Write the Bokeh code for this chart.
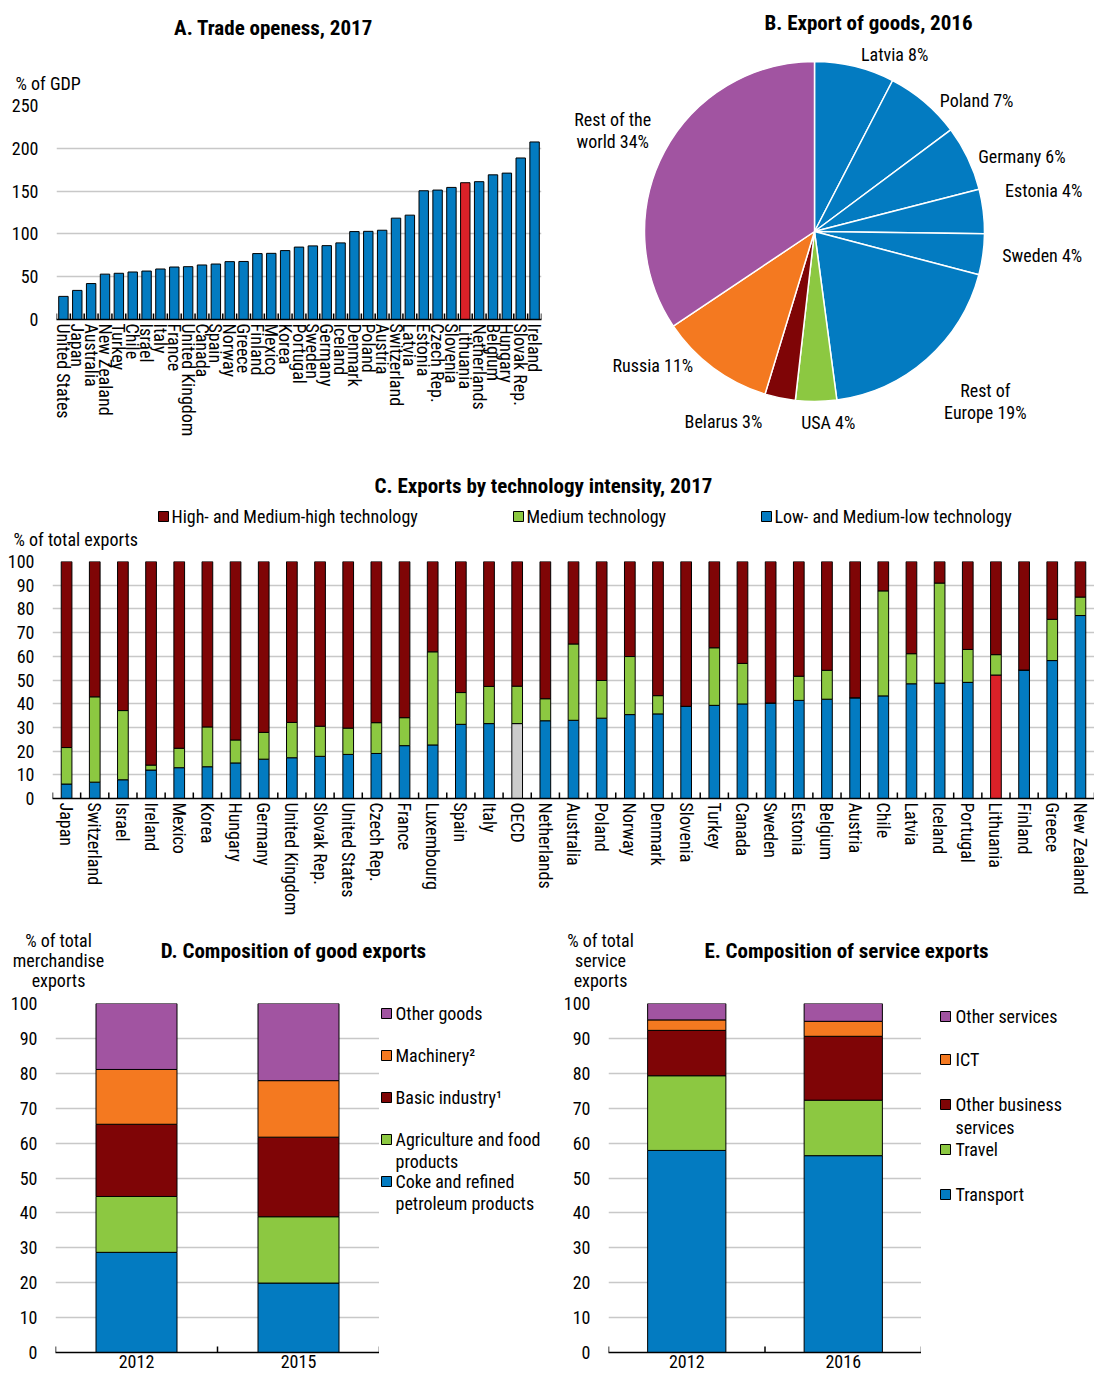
import math
from bokeh.plotting import figure
from bokeh.models import Range1d, FactorRange, SingleIntervalTicker, ColumnDataSource
from bokeh.layouts import column, row
from bokeh.embed import file_html
from bokeh.resources import INLINE
from bokeh.core.properties import value

FONT = "Roboto Condensed"
BLUE = "#037BC1"
GREEN = "#8CC841"
DRED = "#7F0506"
ORANGE = "#F47920"
PURPLE = "#A154A1"
RED = "#DA2128"
GREY = "#CCCCCC"
GRID = "#C8C8C8"

# ---------------- Data ----------------
# A. Trade openness, 2017 (% of GDP)
a_countries = ["United States", "Japan", "Australia", "New Zealand", "Turkey", "Chile",
               "Israel", "Italy", "France", "United Kingdom", "Canada", "Spain", "Norway",
               "Greece", "Finland", "Mexico", "Korea", "Portugal", "Sweden", "Germany",
               "Iceland", "Denmark", "Poland", "Austria", "Switzerland", "Latvia", "Estonia",
               "Czech Rep.", "Slovenia", "Lithuania", "Netherlands", "Belgium", "Hungary",
               "Slovak Rep.", "Ireland"]
a_trade = [27, 34, 42, 53, 54, 55.5, 56.6, 59, 61.3, 61.7, 63.7, 64.8, 67.6, 67.8, 77,
           77.3, 80.5, 84.6, 86, 86.3, 89.5, 102.7, 103, 104.3, 118.4, 121.9, 150.4,
           151.2, 154.3, 159.8, 161, 169, 171, 188.7, 207.4]

# B. Export of goods, 2016 (% share)
b_partners = ["Latvia", "Poland", "Germany", "Estonia", "Sweden", "Rest of\nEurope",
              "USA", "Belarus", "Russia", "Rest of the\nworld"]
b_shares = [7.6, 7.2, 6.2, 4.2, 3.9, 18.8, 3.9, 2.9, 10.9, 34.4]
b_colors = [BLUE, BLUE, BLUE, BLUE, BLUE, BLUE, GREEN, DRED, ORANGE, PURPLE]
# label placement nudges (layout only, pixels: right, down)
b_label_nudge = [(0, 13), (6, 18), (0, 10), (5, -18), (8, -2), (8, 15), (12, -5),
                 (-13, -2), (-11, -23), (6, -4)]

# C. Exports by technology intensity, 2017 (% of total exports)
c_countries = ["Japan", "Switzerland", "Israel", "Ireland", "Mexico", "Korea", "Hungary",
               "Germany", "United Kingdom", "Slovak Rep.", "United States", "Czech Rep.",
               "France", "Luxembourg", "Spain", "Italy", "OECD", "Netherlands", "Australia",
               "Poland", "Norway", "Denmark", "Slovenia", "Turkey", "Canada", "Sweden",
               "Estonia", "Belgium", "Austria", "Chile", "Latvia", "Iceland", "Portugal",
               "Lithuania", "Finland", "Greece", "New Zealand"]
c_low = [6.1, 6.9, 7.9, 12.0, 13.0, 13.4, 15.0, 16.6, 17.2, 17.8, 18.6, 19.0, 22.3, 22.6,
         31.3, 31.6, 31.6, 32.8, 33.0, 33.9, 35.4, 35.7, 38.9, 39.3, 39.9, 40.3, 41.4, 41.9,
         42.5, 43.3, 48.4, 48.7, 49.0, 52.1, 54.2, 58.2, 77.2]
c_medium = [15.4, 36.0, 29.2, 2.1, 8.2, 16.8, 9.7, 11.3, 14.9, 12.7, 11.1, 13.0, 11.8, 39.3,
            13.4, 15.7, 15.8, 9.3, 32.2, 15.9, 24.5, 7.7, 0.0, 24.3, 17.1, 0.0, 10.2, 12.2,
            0.0, 44.3, 12.7, 42.2, 13.9, 8.6, 0.0, 17.4, 7.8]
c_high = [78.5, 57.1, 62.9, 85.9, 78.8, 69.8, 75.3, 72.1, 67.9, 69.5, 70.3, 68.0, 65.9, 38.1,
          55.3, 52.7, 52.6, 57.9, 34.8, 50.2, 40.1, 56.6, 61.1, 36.4, 43.0, 59.7, 48.4, 45.9,
          57.5, 12.4, 38.9, 9.1, 37.1, 39.3, 45.8, 24.4, 15.0]
c_series = ["High- and Medium-high technology", "Medium technology",
            "Low- and Medium-low technology"]

# D. Composition of good exports (% of total merchandise exports)
d_years = ["2012", "2015"]
d_series = ["Coke and refined\npetroleum products", "Agriculture and food\nproducts",
            "Basic industry¹", "Machinery²", "Other goods"]
d_coke = [28.7, 19.9]
d_agri = [16.0, 19.0]
d_basic = [20.7, 22.8]
d_mach = [15.7, 16.2]
d_other = [18.9, 22.1]
d_colors = [BLUE, GREEN, DRED, ORANGE, PURPLE]

# E. Composition of service exports (% of total service exports)
e_years = ["2012", "2016"]
e_series = ["Transport", "Travel", "Other business\nservices", "ICT", "Other services"]
e_transport = [57.9, 56.4]
e_travel = [21.4, 15.9]
e_obs = [13.0, 18.3]
e_ict = [3.0, 4.3]
e_other = [4.7, 5.1]
e_colors = [BLUE, GREEN, DRED, ORANGE, PURPLE]


# ---------------- Helpers ----------------
def canvas_fig(w, h):
    f = figure(width=w, height=h, x_range=Range1d(0, w), y_range=Range1d(0, h),
               output_backend="svg", toolbar_location=None, min_border=0,
               x_axis_location=None, y_axis_location=None, frame_align=False)
    f.grid.visible = False
    f.outline_line_color = None
    return f


def put_text(f, org, px, py, text, size=18, bold=False, align="left"):
    """Place text at page position (px, py) inside canvas figure f whose page origin is org."""
    ox, oy, h = org
    f.text(x=[px - ox], y=[h - (py - oy)], text=[text], text_align=align,
           text_baseline="middle", text_font=value(FONT), text_font_size=f"{size}px",
           text_font_style="bold" if bold else "normal", text_color="black")


def put_key(f, org, px, py, color, size=10):
    ox, oy, h = org
    f.rect(x=[px - ox + size / 2], y=[h - (py - oy)], width=size, height=size,
           fill_color=color, line_color="black", line_width=1)


def chart_fig(w, h, x_range, y_end, interval, left, right, top, bottom, orient=None):
    p = figure(width=w, height=h, x_range=x_range, y_range=Range1d(0, y_end),
               output_backend="svg", toolbar_location=None, frame_align=False,
               min_border_left=left, min_border_right=right,
               min_border_top=top, min_border_bottom=bottom)
    p.outline_line_color = None
    p.xgrid.grid_line_color = None
    p.ygrid.grid_line_color = GRID
    p.ygrid.grid_line_width = 1.5
    p.yaxis.ticker = SingleIntervalTicker(interval=interval)
    p.yaxis.axis_line_color = None
    p.yaxis.major_tick_line_color = None
    p.yaxis.minor_tick_line_color = None
    p.yaxis.major_tick_out = 0
    p.yaxis.major_tick_in = 0
    p.yaxis.major_label_standoff = 14
    for ax in (p.xaxis, p.yaxis):
        ax.major_label_text_font = FONT
        ax.major_label_text_font_size = "18px"
        ax.major_label_text_color = "black"
    p.xaxis.axis_line_color = "black"
    p.xaxis.axis_line_width = 1.5
    p.xaxis.major_tick_line_color = None
    p.xaxis.major_tick_out = 0
    p.xaxis.major_tick_in = 0
    p.xaxis.major_label_standoff = 4
    if orient is not None:
        p.xaxis.major_label_orientation = orient
    return p


def boundary_ticks(p, cats, tick_h):
    xs = [(c, -0.5) for c in cats] + [(cats[-1], 0.5)]
    p.segment(x0=xs, y0=[0] * len(xs), x1=xs, y1=[tick_h] * len(xs),
              line_color="black", line_width=1.5)


def stacked(p, cats, series_vals, colors, width):
    bottom = [0.0] * len(cats)
    for vals, col in zip(series_vals, colors):
        top = [b + v for b, v in zip(bottom, vals)]
        cols = col if isinstance(col, list) else [col] * len(cats)
        p.vbar(x="x", bottom="bottom", top="top", width=width, fill_color="col",
               line_color="black", line_width=1,
               source=ColumnDataSource(dict(x=cats, bottom=bottom, top=top, col=cols)))
        bottom = top


# ---------------- Panel A ----------------
HA = (0, 0, 95)
headA = canvas_fig(550, 95)
put_text(headA, HA, 273, 27, "A. Trade openess, 2017", size=21, bold=True, align="center")
put_text(headA, HA, 15, 83, "% of GDP")

A_FH = 214
chartA = chart_fig(550, 360, FactorRange(*a_countries), 250, 50, 56, 9, 10, 360 - 10 - A_FH,
                   "vertical")
a_cols = [RED if c == "Lithuania" else BLUE for c in a_countries]
chartA.vbar(x="x", top="v", bottom=0, width=0.68, fill_color="col", line_color="black",
            line_width=1, source=ColumnDataSource(dict(x=a_countries, v=a_trade, col=a_cols)))
boundary_ticks(chartA, a_countries, 6 * 250 / A_FH)

# ---------------- Panel B ----------------
BW, BH = 544, 455
OB = (550, 0, BH)
pieB = canvas_fig(BW, BH)
cx, cy, rad = 814 - OB[0], BH - 231, 170
total = sum(b_shares)
cum = 0.0
starts, ends, mids = [], [], []
for s in b_shares:
    starts.append(math.pi / 2 - 2 * math.pi * cum / total)
    mids.append(2 * math.pi * (cum + s / 2) / total)
    cum += s
    ends.append(math.pi / 2 - 2 * math.pi * cum / total)
pieB.wedge(x=cx, y=cy, radius=rad, start_angle="s", end_angle="e", direction="clock",
           fill_color="c", line_color="white", line_width=1.5,
           source=ColumnDataSource(dict(s=starts, e=ends, c=b_colors)))
LINE_H, GAP = 22, 15
for name, s, m, (ndx, ndy) in zip(b_partners, b_shares, mids, b_label_nudge):
    lines = f"{name} {round(s)}%".split("\n")
    n = len(lines)
    w = max(len(ln) for ln in lines) * 0.45 * 18
    h = n * LINE_H
    sx, cz = math.sin(m), math.cos(m)
    px = cx + (rad + GAP) * sx + (w / 2 if sx > 0.1 else (-w / 2 if sx < -0.1 else 0)) + ndx
    py = cy + (rad + GAP) * cz + cz * h / 2 - ndy
    for i, ln in enumerate(lines):
        pieB.text(x=[px], y=[py + (n - 1) * LINE_H / 2 - i * LINE_H], text=[ln],
                  text_align="center", text_baseline="middle", text_font=value(FONT),
                  text_font_size="18px", text_color="black")
put_text(pieB, OB, 868, 22, "B. Export of goods, 2016", size=21, bold=True, align="center")

# ---------------- Panel C ----------------
HC = (0, 455, 97)
headC = canvas_fig(1094, 97)
put_text(headC, HC, 543, 485, "C. Exports by technology intensity, 2017", size=21, bold=True,
         align="center")
for lab, col, kx in zip(c_series, [DRED, GREEN, BLUE], [158, 513, 761]):
    put_key(headC, HC, kx, 516, col)
    put_text(headC, HC, kx + 13, 516, lab)
put_text(headC, HC, 13, 539, "% of total exports")

C_FH = 241
CCH = 366
chartC = chart_fig(1094, CCH, FactorRange(*c_countries), 100, 10, 52, 0, 9, CCH - 9 - C_FH,
                   "vertical")
low_cols = [RED if c == "Lithuania" else (GREY if c == "OECD" else BLUE) for c in c_countries]
stacked(chartC, c_countries, [c_low, c_medium, c_high], [low_cols, GREEN, DRED], 0.38)
boundary_ticks(chartC, c_countries, 6 * 100 / C_FH)

# ---------------- Panel D ----------------
Y3 = 455 + 97 + CCH
HH = 74
HD = (0, Y3, HH)
headD = canvas_fig(550, HH)
put_text(headD, HD, 293, 950, "D. Composition of good exports", size=21, bold=True,
         align="center")
for i, ln in enumerate(["% of total", "merchandise", "exports"]):
    put_text(headD, HD, 58, 940 + 20 * i, ln, align="center")

D_FH = 349
CH = 384
chartD = chart_fig(379, CH, FactorRange(*d_years), 100, 10, 55, 0, 11, CH - 11 - D_FH)
chartD.xaxis.major_label_standoff = 2
stacked(chartD, d_years, [d_coke, d_agri, d_basic, d_mach, d_other], d_colors, 0.5)
boundary_ticks(chartD, d_years, 6 * 100 / D_FH)

LD = (379, Y3 + HH, CH)
legD = canvas_fig(171, CH)
d_key_y = [1181, 1139, 1097, 1055, 1013]
for lab, col, ky in zip(d_series, d_colors, d_key_y):
    put_key(legD, LD, 381, ky, col)
    for j, ln in enumerate(lab.split("\n")):
        put_text(legD, LD, 395, ky + 22 * j, ln)

# ---------------- Panel E ----------------
HE = (550, Y3, HH)
headE = canvas_fig(544, HH)
put_text(headE, HE, 846, 950, "E. Composition of service exports", size=21, bold=True,
         align="center")
for i, ln in enumerate(["% of total", "service", "exports"]):
    put_text(headE, HE, 600, 940 + 20 * i, ln, align="center")

E_FH = 349
chartE = chart_fig(371, CH, FactorRange(*e_years), 100, 10, 58, 0, 11, CH - 11 - E_FH)
chartE.xaxis.major_label_standoff = 2
stacked(chartE, e_years, [e_transport, e_travel, e_obs, e_ict, e_other], e_colors, 0.5)
boundary_ticks(chartE, e_years, 6 * 100 / E_FH)

LE = (921, Y3 + HH, CH)
legE = canvas_fig(173, CH)
e_key_y = [1194, 1149, 1104, 1059, 1016]
for lab, col, ky in zip(e_series, e_colors, e_key_y):
    put_key(legE, LE, 940, ky, col)
    for j, ln in enumerate(lab.split("\n")):
        put_text(legE, LE, 955, ky + 23 * j, ln)

layout = column(
    row(column(headA, chartA), pieB),
    column(headC, chartC),
    row(column(headD, row(chartD, legD)), column(headE, row(chartE, legE))),
)
open("out.html", "w").write(file_html(layout, INLINE))
